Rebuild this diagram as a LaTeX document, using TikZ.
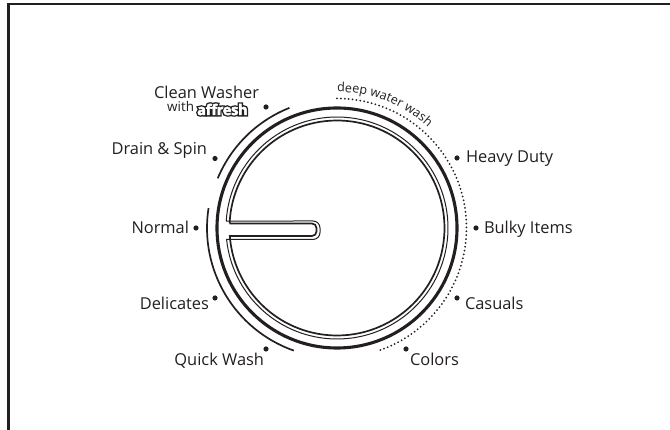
\documentclass[tikz,border=0pt]{standalone}
\usepackage{fontspec}
\setmainfont{Open Sans}
\newfontfamily\aff[FakeBold=22,LetterSpace=-2]{Open Sans Bold}
\newfontfamily\affw[FakeBold=3,LetterSpace=-2]{Open Sans Bold}
\usetikzlibrary{decorations.text,calc}
\definecolor{ink}{HTML}{231F20}
\tikzset{
  lab/.style={font=\fontsize{16.4}{18}\selectfont,text=ink,inner sep=0pt,outer sep=0pt},
  dotm/.style={circle,fill=ink,minimum size=5.2pt,inner sep=0pt},
  rim/.style={draw=ink,line width=3.1pt},
  arcl/.style={draw=ink,line width=1.7pt},
  dotl/.style={draw=ink,line width=2pt,line cap=round,dash pattern=on 0pt off 3.9pt},
}
\begin{document}
\begin{tikzpicture}[x=1pt,y=1pt]
\useasboundingbox (0,0) rectangle (670,430);
\fill[white] (0,0) rectangle (670,430);
\draw[ink,line width=2.8pt] (670,426) -- (8.6,426) -- (8.6,0);
\coordinate (c) at (337,202);
\draw[rim] (c) circle[radius=120pt];
\draw[arcl] ($(c)+(111.6:129.2)$) arc[start angle=111.6,end angle=157.4,radius=129.2pt];
\draw[arcl] ($(c)+(171.2:130)$) arc[start angle=171.2,end angle=250.6,radius=130pt];
\draw[dotl] ($(c)+(90:129.5)$) arc[start angle=90,end angle=-71,radius=129.5pt];
% dial outline, outer thin line (open on the left of the slot)
\coordinate (o0) at ($(c)+(176.4:111)$);
\coordinate (i0) at ($(c)+(177.6:107.5)$);
\draw[ink,line width=1pt,line join=miter]
  (o0) arc[start angle=176.4,end angle=-174.05,radius=111pt]
  -- (313,190.5) arc[start angle=-90,end angle=0,radius=7pt]
  -- (320,202) arc[start angle=0,end angle=90,radius=7pt] -- (o0);
% dial outline, inner line
\draw[ink,line width=1.7pt,line join=miter]
  (i0) arc[start angle=177.6,end angle=-175.73,radius=107.5pt]
  -- (312,194) arc[start angle=-90,end angle=0,radius=4.5pt]
  -- (316.5,202) arc[start angle=0,end angle=90,radius=4.5pt] -- (i0);
% curved label
\path[decorate,decoration={text along path,raise=0pt,text align={left},
  text={|\fontsize{12.6}{13}\selectfont\color{ink}|deep water wash}}]
  ($(c)+(90:136)$) arc[start angle=90,end angle=40,radius=136pt];
% dots
\node[dotm] (d1) at (266,323) {};
\node[dotm] (d2) at (215,271.5) {};
\node[dotm] (d3) at (196,202) {};
\node[dotm] (d4) at (215,132) {};
\node[dotm] (d5) at (266,81) {};
\node[dotm] (d6) at (406,81) {};
\node[dotm] (d7) at (457,132) {};
\node[dotm] (d8) at (476,202) {};
\node[dotm] (d9) at (457,272) {};
% labels
\node[lab,anchor=base east] (l1) at (259,331) {Clean Washer};
\node[lab,anchor=base east,font=\fontsize{13.4}{14}\selectfont] (l1b) at (194,318.5) {with};
\node[inner sep=0pt,anchor=base west,text=ink,font=\aff\fontsize{14.6}{15}\selectfont] (l1c) at (197,315) {affresh};
\node[inner sep=0pt,anchor=base west,text=white,font=\affw\fontsize{14.6}{15}\selectfont] (l1d) at (197,315) {affresh};
\node[lab,anchor=base east] (l2) at (207,275) {Drain \& Spin};
\node[lab,anchor=base east] (l3) at (189,196) {Normal};
\node[lab,anchor=base east] (l4) at (209,120) {Delicates};
\node[lab,anchor=base east] (l5) at (264,64) {Quick Wash};
\node[lab,anchor=base west] (l6) at (410,64) {Colors};
\node[lab,anchor=base west] (l7) at (465,120) {Casuals};
\node[lab,anchor=base west] (l8) at (484,196) {Bulky Items};
\node[lab,anchor=base west] (l9) at (466,267) {Heavy Duty};
\end{tikzpicture}
\end{document}
